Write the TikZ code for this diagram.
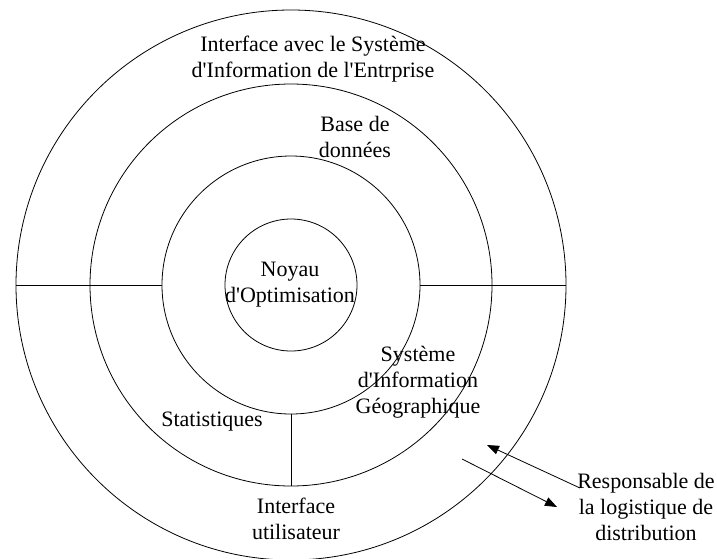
\documentclass[tikz,border=0pt]{standalone}
\usepackage{fontspec}
\setmainfont{Liberation Serif}
\usepackage{tikz}
\usetikzlibrary{arrows.meta}
\tikzset{
  ring/.style={circle,draw,inner sep=0pt},
  lbl/.style={align=center,inner sep=0pt,font=\fontsize{22}{26}\selectfont},
  arr/.style={-{Triangle[length=12pt,width=9pt]}}
}

\begin{document}
\begin{tikzpicture}[x=1pt,y=-1pt,line width=0.8pt]
    \useasboundingbox (0,0) rectangle (717,558);
    % rings
    \node[ring,minimum size=550pt] (r1) at (291,285) {};
    \node[ring,minimum size=402pt] (r2) at (291,285) {};
    \node[ring,minimum size=258pt] (r3) at (291,285) {};
    \node[ring,minimum size=132pt] (r4) at (291,285) {};
    \draw (r1.west) -- (r3.west);
    \draw (r3.east) -- (r1.east);
    \draw (r3.south) -- (r2.south);
    % labels
    \node[lbl] (isie) at (313,59) {Interface avec le Système\\d\textquotesingle Information de l\textquotesingle Entrprise};
    \node[lbl] (bdd) at (355,137) {Base de\\données};
    \node[lbl] (noyau) at (290,285) {Noyau\\d\textquotesingle Optimisation};
    \node[lbl] (sig) at (418,382) {Système\\d\textquotesingle Information\\Géographique};
    \node[lbl] (stats) at (212,422) {Statistiques};
    \node[lbl] (iu) at (296,519) {Interface\\utilisateur};
    \node[lbl] (resp) at (646,507) {Responsable de\\la logistique de\\distribution};
    % arrows
    \coordinate (p1) at (580,488);
    \coordinate (q1) at (487,445);
    \coordinate (p2) at (462,459);
    \coordinate (q2) at (557,507);
    \draw[arr] (p1) -- (q1);
    \draw[arr] (p2) -- (q2);
\end{tikzpicture}
\end{document}
